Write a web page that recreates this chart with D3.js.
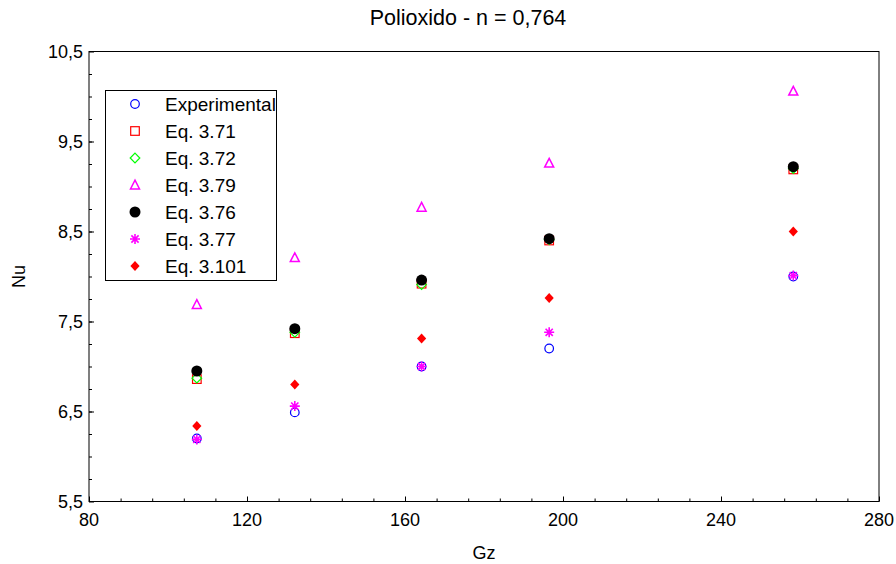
<!DOCTYPE html>
<html>
<head>
<meta charset="utf-8">
<script src="https://cdn.jsdelivr.net/npm/d3@7"></script>
<style>
  body { margin: 0; background: #fff; }
  svg { font-family: "Liberation Sans", Arial, sans-serif; }
</style>
</head>
<body>
<div id="chart"></div>
<script>
var W = 896, H = 564;
var margin = {top: 51.5, right: 17, bottom: 62.5, left: 89};

// data
var gz = [107.3, 132.1, 164.2, 196.5, 258.3];
var experimental = [6.20, 6.49, 7.00, 7.20, 8.00];
var eq371 = [6.86, 7.37, 7.92, 8.40, 9.19];
var eq372 = [6.87, 7.38, 7.91, 8.41, 9.20];
var eq379 = [7.69, 8.21, 8.77, 9.26, 10.06];
var eq376 = [6.95, 7.42, 7.96, 8.42, 9.22];
var eq377 = [6.19, 6.56, 7.00, 7.38, 8.01];
var eq3101 = [6.34, 6.80, 7.31, 7.76, 8.50];

var xTicks = [80, 120, 160, 200, 240, 280];
var yTicks = [5.5, 6.5, 7.5, 8.5, 9.5, 10.5];

var series = [
  {name: "Experimental", values: experimental, shape: "circle", color: "#0000ff"},
  {name: "Eq. 3.71", values: eq371, shape: "square", color: "#ff0000"},
  {name: "Eq. 3.72", values: eq372, shape: "diamond", color: "#00ff00"},
  {name: "Eq. 3.79", values: eq379, shape: "triangle", color: "#ff00ff"},
  {name: "Eq. 3.76", values: eq376, shape: "dot", color: "#000000"},
  {name: "Eq. 3.77", values: eq377, shape: "star", color: "#ff00ff"},
  {name: "Eq. 3.101", values: eq3101, shape: "fdiamond", color: "#ff0000"}
];

var svg = d3.select("#chart").append("svg")
  .attr("width", W).attr("height", H);

var x = d3.scaleLinear().domain([80, 280]).range([margin.left, W - margin.right]);
var y = d3.scaleLinear().domain([5.5, 10.5]).range([H - margin.bottom, margin.top]);

var comma = function(v) { return d3.format("")(v).replace(".", ","); };

// frame
svg.append("rect")
  .attr("x", x(80)).attr("y", y(10.5))
  .attr("width", x(280) - x(80)).attr("height", y(5.5) - y(10.5))
  .attr("fill", "none").attr("stroke", "#000").attr("stroke-width", 1);

// x axis
var xAxis = svg.append("g").attr("transform", "translate(0," + y(5.5) + ")");
xAxis.call(d3.axisBottom(x).tickValues(d3.range(88, 280, 8)).tickSize(-3).tickFormat(""));
xAxis.call(function(g) {
  g.append("g").call(d3.axisBottom(x).tickValues(xTicks).tickSize(-5).tickFormat(""));
});
xAxis.selectAll(".domain").remove();
xAxis.selectAll("line").attr("stroke", "#000");
svg.append("g").selectAll("text").data(xTicks).enter().append("text")
  .attr("x", function(d) { return x(d); })
  .attr("y", 526)
  .attr("text-anchor", "middle")
  .attr("font-size", 18)
  .text(function(d) { return d; });

// y axis
var yAxis = svg.append("g").attr("transform", "translate(" + x(80) + ",0)");
yAxis.call(d3.axisLeft(y).tickValues(d3.range(5.75, 10.5, 0.25)).tickSize(-3).tickFormat(""));
yAxis.call(function(g) {
  g.append("g").call(d3.axisLeft(y).tickValues(yTicks).tickSize(-5).tickFormat(""));
});
yAxis.selectAll(".domain").remove();
yAxis.selectAll("line").attr("stroke", "#000");
svg.append("g").selectAll("text").data(yTicks).enter().append("text")
  .attr("x", x(80) - 6)
  .attr("y", function(d) { return y(d); })
  .attr("dy", "0.36em")
  .attr("text-anchor", "end")
  .attr("font-size", 18)
  .text(function(d) { return comma(d); });

// titles
svg.append("text").attr("x", 468).attr("y", 25)
  .attr("text-anchor", "middle").attr("font-size", 21.5)
  .text("Polioxido - n = 0,764");
svg.append("text").attr("x", (x(80) + x(280)) / 2).attr("y", 559)
  .attr("text-anchor", "middle").attr("font-size", 18).text("Gz");
svg.append("text")
  .attr("transform", "translate(25," + ((y(5.5) + y(10.5)) / 2) + ") rotate(-90)")
  .attr("text-anchor", "middle").attr("font-size", 18).text("Nu");

function drawMarker(g, shape, color) {
  if (shape === "circle") {
    g.append("circle").attr("r", 4.3).attr("fill", "none").attr("stroke", color).attr("stroke-width", 1.2);
  } else if (shape === "square") {
    g.append("rect").attr("x", -4.3).attr("y", -4.3).attr("width", 8.6).attr("height", 8.6)
      .attr("fill", "none").attr("stroke", color).attr("stroke-width", 1.2);
  } else if (shape === "diamond") {
    g.append("path").attr("d", "M0,-4.8L4.8,0L0,4.8L-4.8,0Z")
      .attr("fill", "none").attr("stroke", color).attr("stroke-width", 1.2);
  } else if (shape === "triangle") {
    g.append("path").attr("d", "M0,-4.8L4.5,4L-4.5,4Z")
      .attr("fill", "none").attr("stroke", color).attr("stroke-width", 1.5);
  } else if (shape === "dot") {
    g.append("circle").attr("r", 5.5).attr("fill", color);
  } else if (shape === "star") {
    g.append("path").attr("d", "M0,-5V5M-5,0H5M-3.6,-3.6L3.6,3.6M-3.6,3.6L3.6,-3.6")
      .attr("stroke", color).attr("stroke-width", 1.6).attr("fill", "none");
  } else if (shape === "fdiamond") {
    g.append("path").attr("d", "M0,-5L4.6,0L0,5L-4.6,0Z").attr("fill", color);
  }
}

// points
series.forEach(function(s) {
  var pts = svg.append("g").selectAll("g").data(s.values).enter().append("g")
    .attr("transform", function(d, i) { return "translate(" + x(gz[i]) + "," + y(d) + ")"; });
  pts.each(function() { drawMarker(d3.select(this), s.shape, s.color); });
});

// legend
var legend = svg.append("g");
legend.append("rect").attr("x", 105.5).attr("y", 90.5).attr("width", 171).attr("height", 190)
  .attr("fill", "#fff").attr("stroke", "#000").attr("stroke-width", 1);
series.forEach(function(s, i) {
  var ly = 104 + i * 27;
  var mk = legend.append("g").attr("transform", "translate(135," + ly + ")");
  drawMarker(mk, s.shape, s.color);
  legend.append("text").attr("x", 165).attr("y", ly).attr("dy", "0.36em")
    .attr("font-size", 19).text(s.name);
});
</script>
</body>
</html>
